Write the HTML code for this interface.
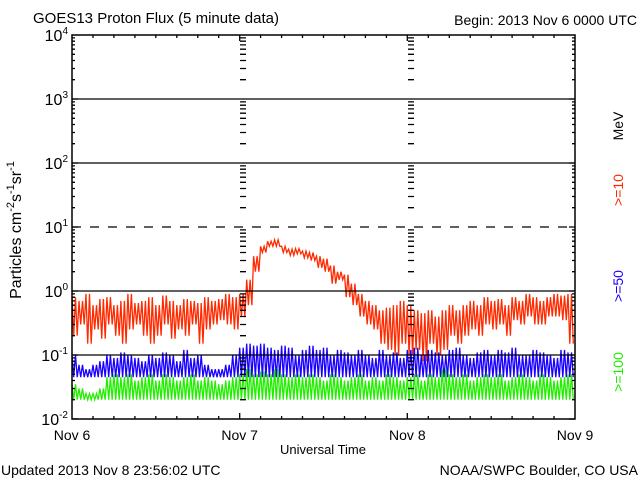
<!DOCTYPE html>
<html><head><meta charset="utf-8"><style>
body{margin:0;background:#fff;width:640px;height:480px;overflow:hidden}
svg{display:block;font-family:"Liberation Sans","DejaVu Sans",sans-serif}
</style></head><body>
<svg id="c" width="640" height="480">
<text x="33" y="23" font-size="15">GOES13 Proton Flux (5 minute data)</text>
<text x="637" y="25" font-size="14" text-anchor="end">Begin: 2013 Nov 6 0000 UTC</text>
<text transform="translate(21,230) rotate(-90)" font-size="16" text-anchor="middle">Particles cm<tspan dy="-7" font-size="11">-2</tspan><tspan dy="7">s</tspan><tspan dy="-7" font-size="11">-1</tspan><tspan dy="7">sr</tspan><tspan dy="-7" font-size="11">-1</tspan></text>
<text x="323" y="454" font-size="13" text-anchor="middle">Universal Time</text>
<text x="1" y="475" font-size="14">Updated 2013 Nov  8 23:56:02 UTC</text>
<text x="638" y="475" font-size="14" text-anchor="end">NOAA/SWPC Boulder, CO USA</text>
<text transform="translate(623,126) rotate(-90)" font-size="14" text-anchor="middle">MeV</text>
<text transform="translate(623,190) rotate(-90)" font-size="14" text-anchor="middle" fill="#ff2a00">&gt;=10</text>
<text transform="translate(623,286) rotate(-90)" font-size="14" text-anchor="middle" fill="#1a00ff">&gt;=50</text>
<text transform="translate(623,372) rotate(-90)" font-size="14" text-anchor="middle" fill="#22ee00">&gt;=100</text>
<g id="marks"></g><g id="axes"></g>
</svg>
<script>
const days=["Nov 6","Nov 7","Nov 8","Nov 9"];
const decades=[-2,-1,0,1,2,3,4];
const redHi=[0.8,0.7,0.9,0.6,0.75,0.8,0.6,0.7,0.9,0.65,0.7,0.8,0.6,0.85,0.7,0.6,0.75,0.7,0.65,0.8,0.7,0.75,0.9,0.8,
0.9,1.5,3.5,5,6,6.3,5,4.5,4.6,4.2,4,3.5,3.2,2.5,2,1.8,1.3,0.9,0.7,0.6,0.5,0.55,0.6,0.7,
0.6,0.5,0.45,0.5,0.4,0.5,0.6,0.5,0.6,0.7,0.6,0.8,0.7,0.75,0.6,0.8,0.7,0.9,0.8,0.7,0.8,0.9,0.85,0.9];
const redLo=[0.2,0.3,0.15,0.25,0.18,0.3,0.2,0.15,0.25,0.3,0.2,0.15,0.2,0.3,0.18,0.25,0.2,0.3,0.15,0.25,0.3,0.35,0.3,0.25,
0.4,0.6,2,4,5,5,4,3.6,3.8,3.3,3,2.3,2,1.3,1.5,0.8,0.6,0.4,0.3,0.25,0.15,0.12,0.1,0.15,
0.1,0.12,0.08,0.15,0.1,0.12,0.2,0.15,0.2,0.25,0.2,0.3,0.25,0.3,0.2,0.35,0.3,0.4,0.3,0.3,0.4,0.4,0.35,0.15];
const blueHi=[0.1,0.07,0.06,0.07,0.08,0.1,0.09,0.11,0.1,0.09,0.08,0.1,0.09,0.11,0.1,0.08,0.12,0.09,0.1,0.07,0.06,0.06,0.07,0.1,
0.13,0.15,0.14,0.15,0.13,0.12,0.14,0.13,0.1,0.12,0.14,0.12,0.13,0.1,0.12,0.11,0.1,0.12,0.1,0.09,0.12,0.1,0.11,0.09,
0.12,0.13,0.1,0.12,0.11,0.1,0.12,0.13,0.1,0.09,0.11,0.12,0.1,0.12,0.11,0.13,0.1,0.1,0.12,0.11,0.1,0.09,0.12,0.11];
const blueLo=Array(72).fill(0.045);
const grnHi=[0.035,0.03,0.025,0.025,0.03,0.045,0.05,0.045,0.05,0.04,0.045,0.05,0.04,0.05,0.045,0.04,0.045,0.05,0.04,0.045,0.04,0.035,0.04,0.045,
0.05,0.06,0.05,0.055,0.05,0.06,0.05,0.045,0.05,0.045,0.05,0.045,0.04,0.05,0.045,0.04,0.045,0.05,0.04,0.045,0.04,0.05,0.045,0.04,
0.045,0.05,0.04,0.05,0.045,0.06,0.05,0.045,0.05,0.04,0.045,0.05,0.045,0.05,0.04,0.045,0.05,0.045,0.04,0.05,0.045,0.04,0.045,0.05];
const grnLo=Array(72).fill(0.02);

const L=72,R=575,T=35,B=419;
const NS="http://www.w3.org/2000/svg";
function X(h){return L+(R-L)*h/72;}
function Y(v){return B-(Math.log10(v)+2)*64;}
function mk(tag,a,parent){const e=document.createElementNS(NS,tag);for(const k in a)e.setAttribute(k,a[k]);parent.appendChild(e);return e;}
const marks=document.getElementById('marks'),axes=document.getElementById('axes');

function series(hi,lo,color,name){
  let pts=[];
  for(let i=0;i<hi.length;i++){
    for(let k=0;k<4;k++){
      const v=(k%2===0)?hi[i]:lo[i];
      pts.push(X(i+k/4).toFixed(1)+","+Y(v).toFixed(1));
    }
  }
  const p=mk('polyline',{points:pts.join(' '),fill:'none',stroke:color,'stroke-width':1.3},marks);
  
  
}
series(redHi,redLo,'#ff2a00','series-10mev');
series(blueHi,blueLo,'#1a00ff','series-50mev');
series(grnHi,grnLo,'#22ee00','series-100mev');

// grid lines
decades.forEach(d=>{
  if(d===-2||d===4)return;
  const y=Y(Math.pow(10,d));
  const ln=mk('line',{x1:L,x2:R,y1:y,y2:y,stroke:'#000','stroke-width':1.3},axes);
  if(d===1)ln.setAttribute('stroke-dasharray','9,9');
  
  
});
// frame
const fr=mk('rect',{x:L,y:T,width:R-L,height:B-T,fill:'none',stroke:'#000','stroke-width':1.5},axes);


// log minor ticks
let tk='';
for(let d=-2;d<4;d++){
  for(let m=1;m<10;m++){
    const y=Y(m*Math.pow(10,d)).toFixed(1);
    const len=m===1?6:3;
    tk+=`M${L} ${y}h${len}M${R} ${y}h${-len}`;
    if(m>1){tk+=`M240 ${y}h6M408 ${y}h6`;}
  }
}
for(let h=3;h<72;h+=3){const x=X(h).toFixed(1);const len=(h%24===0)?6:3;tk+=`M${x} ${T}v${len}M${x} ${B}v${-len}`;}
const tp=mk('path',{d:tk,stroke:'#000','stroke-width':1.3,fill:'none'},axes);


// y tick labels
decades.forEach(d=>{
  const y=Y(Math.pow(10,d));
  const t=mk('text',{x:68,y:y+6,'font-size':16,'text-anchor':'end'},axes);
  t.innerHTML='10<tspan dy="-7" font-size="10">'+d+'</tspan>';
  
  
});
days.forEach((s,i)=>{
  const t=mk('text',{x:X(i*24),y:440,'font-size':14,'text-anchor':'middle'},axes);
  t.textContent=s;
  
  
});
</script>
</body></html>
